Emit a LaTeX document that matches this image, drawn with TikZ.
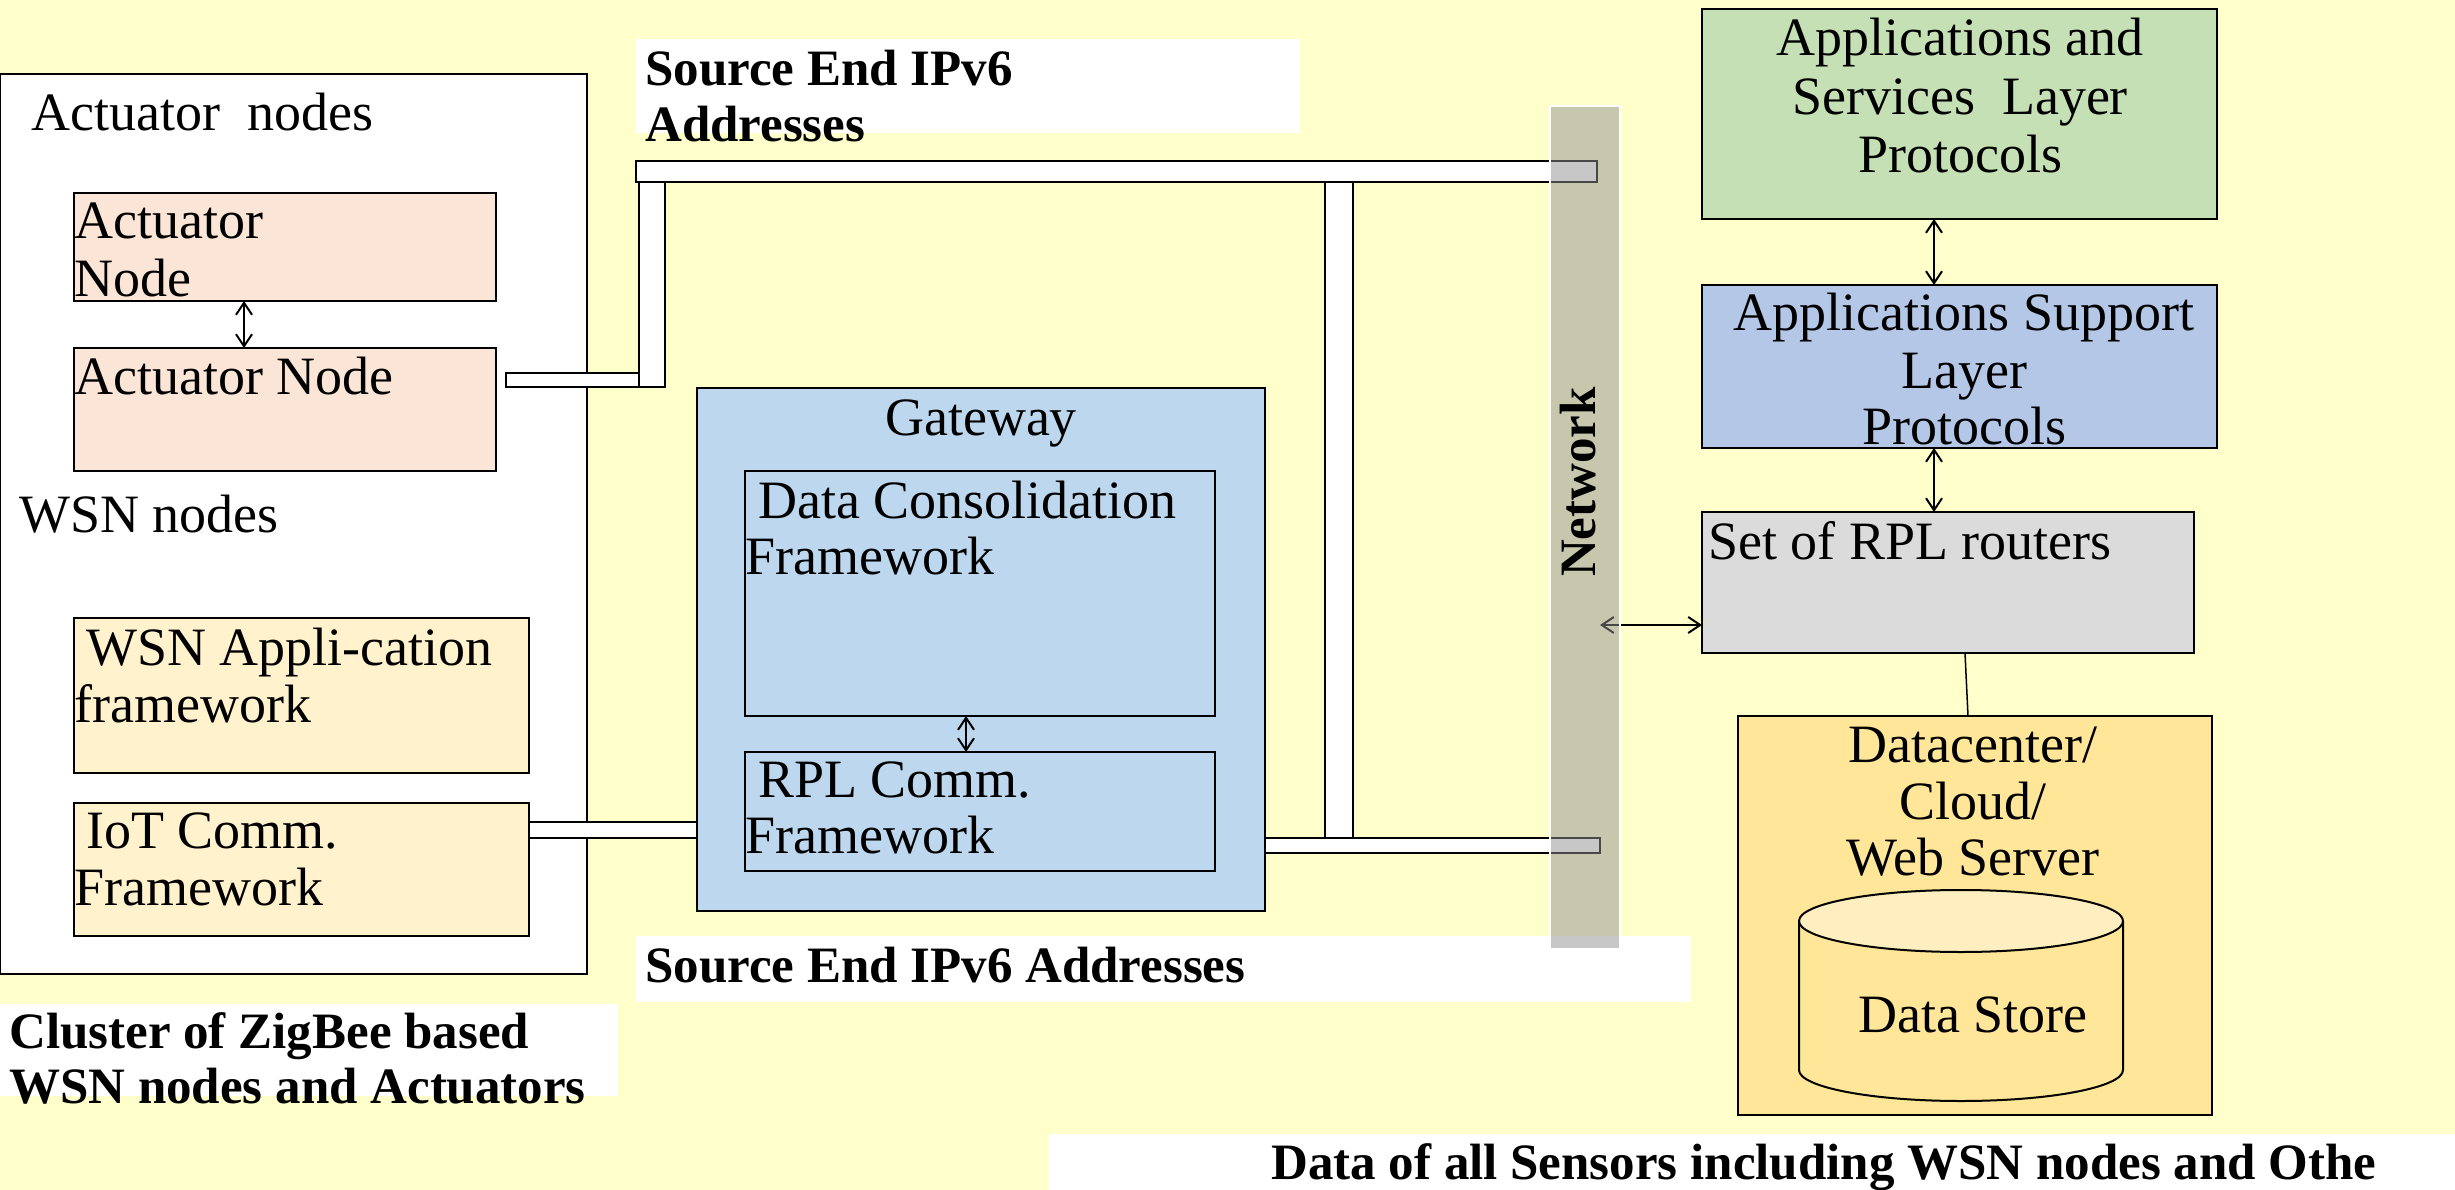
\documentclass[tikz,border=0pt]{standalone}
\usepackage{fontspec}
\setmainfont{Liberation Serif}
\usetikzlibrary{arrows.meta}
\definecolor{bgyellow}{HTML}{FFFFCC}
\definecolor{peach}{HTML}{FBE5D6}
\definecolor{lightyel}{HTML}{FFF2CC}
\definecolor{gwblue}{HTML}{BDD7EE}
\definecolor{appgreen}{HTML}{C5E0B4}
\definecolor{appblue}{HTML}{B4C7E7}
\definecolor{rplgray}{HTML}{DBDBDB}
\definecolor{dcyellow}{HTML}{FFE699}
\definecolor{cyltop}{HTML}{FFEFC0}
\definecolor{netgray}{RGB}{145,145,145}
\begin{document}
\begin{tikzpicture}[x=1pt,y=-1pt,
  box/.style={draw=black, line width=2pt, anchor=north west, inner sep=0pt, outer sep=0pt},
  wbox/.style={fill=white, anchor=north west, inner sep=0pt, outer sep=0pt},
  pipe/.style={draw=black, line width=1.5pt, fill=white},
  txt/.style={inner sep=0pt, yshift=-15pt, font=\fontsize{54}{58}\selectfont},
  btxt/.style={inner sep=0pt, yshift=-14pt, font=\fontsize{51}{56}\selectfont\bfseries},
  arr/.style={{Straight Barb[length=12pt,width=16pt]}-{Straight Barb[length=12pt,width=16pt]}, line width=2pt},
]
\useasboundingbox (0,0) rectangle (2455,1190);
\fill[bgyellow] (0,0) rectangle (2455,1190);

% left cluster box
\node[box, fill=white, minimum width=587pt, minimum height=900pt] (cluster) at (0,74) {};
\node[txt, anchor=mid west] (tactn) at (31,113) {Actuator~ nodes};
\node[box, fill=peach, minimum width=422pt, minimum height=108pt] (act1) at (74,193) {};
\node[txt, anchor=mid west] (tact1a) at (74,221) {Actuator};
\node[txt, anchor=mid west] (tact1b) at (74,279) {Node};
\node[box, fill=peach, minimum width=422pt, minimum height=123pt] (act2) at (74,348) {};
\node[txt, anchor=mid west] (tact2) at (74,377) {Actuator Node};
\node[txt, anchor=mid west] (twsnn) at (19,515) {WSN nodes};
\node[box, fill=lightyel, minimum width=455pt, minimum height=155pt] (wsnapp) at (74,618) {};
\node[txt, anchor=mid west] (twsna) at (86,648) {WSN Appli-cation};
\node[txt, anchor=mid west] (twsnb) at (74,705) {framework};
\node[box, fill=lightyel, minimum width=455pt, minimum height=133pt] (iot) at (74,803) {};
\node[txt, anchor=mid west] (tiota) at (86,831) {IoT Comm.};
\node[txt, anchor=mid west] (tiotb) at (74,888) {Framework};
\draw[arr] (244,0 |- act1.south) -- (244,0 |- act2.north);

% white label boxes
\node[wbox, minimum width=664pt, minimum height=94pt] (srctop) at (636,39) {};
\node[btxt, anchor=mid west] (tsrct1) at (645,69) {Source End IPv6};
\node[btxt, anchor=mid west] (tsrct2) at (645,125) {Addresses};
\node[wbox, minimum width=1055pt, minimum height=66pt] (srcbot) at (636,936) {};
\node[btxt, anchor=mid west] (tsrcb) at (645,966) {Source End IPv6 Addresses};
\node[wbox, minimum width=618pt, minimum height=92pt] (clusterlbl) at (0,1004) {};
\node[btxt, anchor=mid west] (tcl1) at (9,1032) {Cluster of ZigBee based};
\node[btxt, anchor=mid west] (tcl2) at (9,1087) {WSN nodes and Actuators};
\node[wbox, minimum width=1406pt, minimum height=56pt] (datalbl) at (1049,1134) {};
\node[btxt, anchor=mid west] (tdata) at (1271,1163) {Data of all Sensors including WSN nodes and Othe};

% pipes
\path[pipe] (506,373) rectangle (639,387);
\path[pipe] (639,182) rectangle (665,387);
\path[pipe] (1325,182) rectangle (1353,838);
\path[pipe] (636,161) rectangle (1597,182);
\path[pipe] (529,822) rectangle (697,838);
\path[pipe] (1265,838) rectangle (1600,853);

% gateway
\node[box, fill=gwblue, minimum width=568pt, minimum height=523pt] (gw) at (697,388) {};
\node[txt, anchor=mid] (tgw) at (981,418) {Gateway};
\node[box, fill=gwblue, minimum width=470pt, minimum height=245pt] (dcf) at (745,471) {};
\node[txt, anchor=mid west] (tdcfa) at (758,501) {Data Consolidation};
\node[txt, anchor=mid west] (tdcfb) at (745,557) {Framework};
\node[box, fill=gwblue, minimum width=470pt, minimum height=119pt] (rpl) at (745,752) {};
\node[txt, anchor=mid west] (trpla) at (758,780) {RPL Comm.};
\node[txt, anchor=mid west] (trplb) at (745,836) {Framework};
\draw[arr] (966,0 |- dcf.south) -- (966,0 |- rpl.north);

% right side
\node[box, fill=appgreen, minimum width=515pt, minimum height=210pt] (green) at (1702,9) {};
\node[txt, anchor=mid] (tg1) at (1960,38) {Applications and};
\node[txt, anchor=mid] (tg2) at (1960,97) {Services~ Layer};
\node[txt, anchor=mid] (tg3) at (1960,155) {Protocols};
\node[box, fill=appblue, minimum width=515pt, minimum height=163pt] (blue) at (1702,285) {};
\node[txt, anchor=mid] (tb1) at (1964,313) {Applications Support};
\node[txt, anchor=mid] (tb2) at (1964,371) {Layer};
\node[txt, anchor=mid] (tb3) at (1964,427) {Protocols};
\node[box, fill=rplgray, minimum width=492pt, minimum height=141pt] (gray) at (1702,512) {};
\node[txt, anchor=mid west] (tgray) at (1708,542) {Set of RPL routers};
\node[box, fill=dcyellow, minimum width=474pt, minimum height=399pt] (dc) at (1738,716) {};
\node[txt, anchor=mid] (tdc1) at (1973,745) {Datacenter/};
\node[txt, anchor=mid] (tdc2) at (1973,802) {Cloud/};
\node[txt, anchor=mid] (tdc3) at (1973,858) {Web Server};
\path[fill=dcyellow, draw=black, line width=2pt]
  (1799,921) -- (1799,1070) arc[start angle=180, end angle=0, x radius=162, y radius=31] -- (2123,921);
\path[fill=cyltop, draw=black, line width=2pt] (1961,921) ellipse[x radius=162, y radius=31];
\node[txt, anchor=mid] (tstore) at (1973,1015) {Data Store};
\draw[arr] (1934,0 |- green.south) -- (1934,0 |- blue.north);
\draw[arr] (1934,0 |- blue.south) -- (1934,0 |- gray.north);
\draw[line width=1.5pt] (1965,0 |- gray.south) -- (1968,0 |- dc.north);
\coordinate (netpt) at (1600,625);
\draw[arr] (netpt) -- (netpt -| gray.west);

% network bar
\node[anchor=north west, inner sep=0pt, outer sep=0pt, minimum width=70pt, minimum height=843pt,
  fill=netgray, fill opacity=0.5, draw=white, line width=1.5pt] (net) at (1550,106) {};
\node[inner sep=0pt, font=\fontsize{51}{56}\selectfont\bfseries, rotate=90, anchor=mid] (tnet) at (1593,482) {Network};
\end{tikzpicture}
\end{document}
